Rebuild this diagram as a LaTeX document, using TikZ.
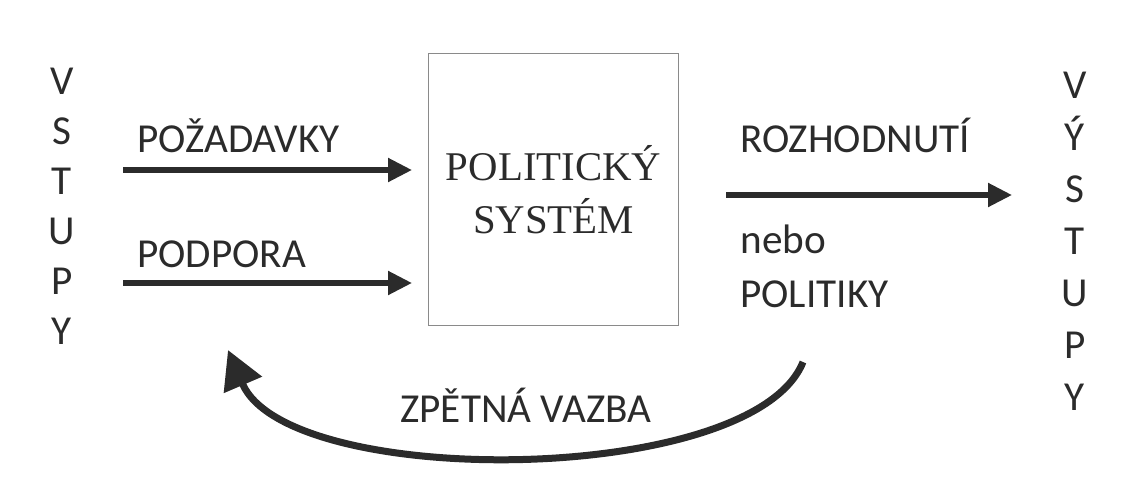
\documentclass[tikz,border=0pt]{standalone}
\usepackage{fontspec}
\setmainfont{Carlito}
\newfontfamily\boxfont{Liberation Serif}
\usetikzlibrary{arrows.meta}
\definecolor{ink}{HTML}{2B2B2B}
\definecolor{frame}{HTML}{8A8A8A}

\begin{document}
\begin{tikzpicture}[x=0.5pt,y=-0.5pt,
	every node/.style={text=ink, font=\fontsize{20.6}{24}\selectfont, inner sep=0pt},
	txt/.style={anchor=base west},
	letter/.style={anchor=base},
	flow/.style={draw=ink, line width=2.6pt, -{Triangle[length=12pt,width=11.5pt]}},
	feedback/.style={draw=ink, line width=3.5pt, -{Triangle[length=19pt,width=20pt]}}]

	% ---- canvas

	\useasboundingbox (0,0) rectangle (1126,488);

	% ---- system box

	\node[draw=frame, line width=0.6pt, anchor=north west,
		minimum width=125pt, minimum height=136pt, align=center,
		font=\boxfont\fontsize{20.4}{26.5}\selectfont] (sys) at (428,53) {POLITICKÝ\\SYSTÉM};

	% ---- inputs and outputs columns

	\foreach \l [count=\i] in {V,S,T,U,P,Y} {
		\node[letter] (in\i) at (62,{94+50*(\i-1)}) {\l};
	}

	\foreach \l [count=\i] in {V,Ý,S,T,U,P,Y} {
		\node[letter] (out\i) at (1075,{98+52*(\i-1)}) {\l};
	}

	% ---- demands and support

	\coordinate (dem0) at (123,170);
	\coordinate (sup0) at (123,283);
	\draw[flow] (dem0) -- ([xshift=-8pt]sys.west |- dem0);
	\draw[flow] (sup0) -- ([xshift=-8pt]sys.west |- sup0);

	\node[txt] (dem) at (137,152) {POŽADAVKY};
	\node[txt] (sup) at (137,267) {PODPORA};

	% ---- decisions

	\coordinate (dec1) at (1012,195);
	\draw[flow] ([xshift=23.5pt]sys.east |- dec1) -- (dec1);

	\node[txt] (dec) at (740,152) {ROZHODNUTÍ};
	\node[txt] (nebo) at (740,253) {nebo};
	\node[txt] (pol) at (740,307) {POLITIKY};

	% ---- feedback loop

	\coordinate (fb0) at (803,362);
	\coordinate (fb1) at (228,350);
	\draw[feedback] (fb0) .. controls (753,487) and (288,490) .. (fb1);

	\node[txt] (fb) at (400,422) {ZPĚTNÁ VAZBA};

\end{tikzpicture}
\end{document}
